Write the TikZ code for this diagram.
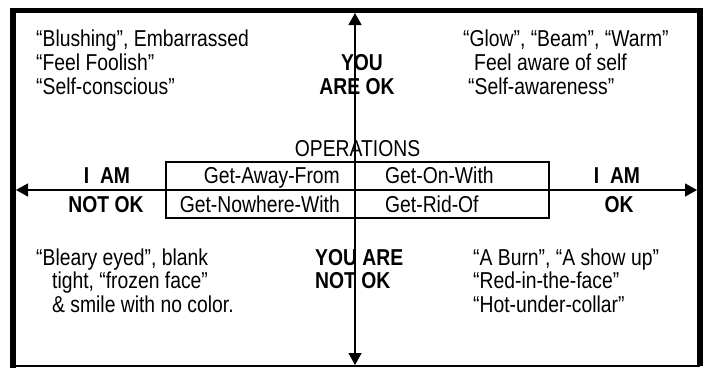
\documentclass[tikz,border=0pt]{standalone}
\usepackage{fontspec}
\setmainfont{Liberation Sans}[FakeStretch=0.84]
\usetikzlibrary{arrows.meta}
\begin{document}
\begin{tikzpicture}[x=1pt,y=-1pt,
  txt/.style={inner sep=0pt, font=\fontsize{23}{23}\selectfont},
  lbl/.style={txt, font=\fontsize{23}{23}\selectfont\bfseries},
  axisline/.style={line width=1.2pt, {Triangle[length=12pt,width=13pt]}-{Triangle[length=12pt,width=13pt]}},
  opsbox/.style={draw, line width=1.2pt, inner sep=0pt, minimum width=383pt, minimum height=56pt}]
\useasboundingbox (0,0) rectangle (708,368);
% frame
\fill (10,8) rectangle (16,368);
\fill (10,8) rectangle (703,13);
\fill (697,8) rectangle (703,366);
\draw[line width=1.5pt] (16,366) -- (700,366);
% operations box
\node[opsbox] (ops) at (357.5,190) {};
% axes
\coordinate (top) at (355,13);
\coordinate (bot) at (355,365);
\coordinate (lft) at (16,190);
\coordinate (rgt) at (697,190);
\draw[axisline] (bot) -- (top);
\draw[axisline] (lft) -- (rgt);
% top left
\node[txt, anchor=base west] (tl1) at (36,46) {“Blushing”, Embarrassed};
\node[txt, anchor=base west] (tl2) at (36,70) {“Feel Foolish”};
\node[txt, anchor=base west] (tl3) at (36,94) {“Self-conscious”};
% top centre
\node[lbl, anchor=base] (you1) at (362,70) {YOU};
\node[lbl, anchor=base] (you2) at (357,94) {ARE OK};
% top right
\node[txt, anchor=base west] (tr1) at (463,46) {“Glow”, “Beam”, “Warm”};
\node[txt, anchor=base west] (tr2) at (474,70) {Feel aware of self};
\node[txt, anchor=base west] (tr3) at (468,94) {“Self-awareness”};
% operations
\node[txt, anchor=base] (opt) at (357.5,156) {OPERATIONS};
\node[txt, anchor=base east] (o1) at (340,183) {Get-Away-From};
\node[txt, anchor=base west] (o2) at (385,183) {Get-On-With};
\node[txt, anchor=base east] (o3) at (340,212) {Get-Nowhere-With};
\node[txt, anchor=base west] (o4) at (385,212) {Get-Rid-Of};
% I AM labels
\node[lbl, anchor=base] (ia1) at (107,183) {I\ \ AM};
\node[lbl, anchor=base] (ia2) at (106,212) {NOT OK};
\node[lbl, anchor=base] (ib1) at (617,183) {I\ \ AM};
\node[lbl, anchor=base] (ib2) at (619,212) {OK};
% bottom left
\node[txt, anchor=base west] (bl1) at (36,265) {“Bleary eyed”, blank};
\node[txt, anchor=base west] (bl2) at (52,288) {tight, “frozen face”};
\node[txt, anchor=base west] (bl3) at (52,312) {\& smile with no color.};
% bottom centre
\node[lbl, anchor=base west] (yn1) at (315,265) {YOU ARE};
\node[lbl, anchor=base west] (yn2) at (315,288) {NOT OK};
% bottom right
\node[txt, anchor=base west] (br1) at (473,265) {“A Burn”, “A show up”};
\node[txt, anchor=base west] (br2) at (473,288) {“Red-in-the-face”};
\node[txt, anchor=base west] (br3) at (473,312) {“Hot-under-collar”};
\end{tikzpicture}
\end{document}
